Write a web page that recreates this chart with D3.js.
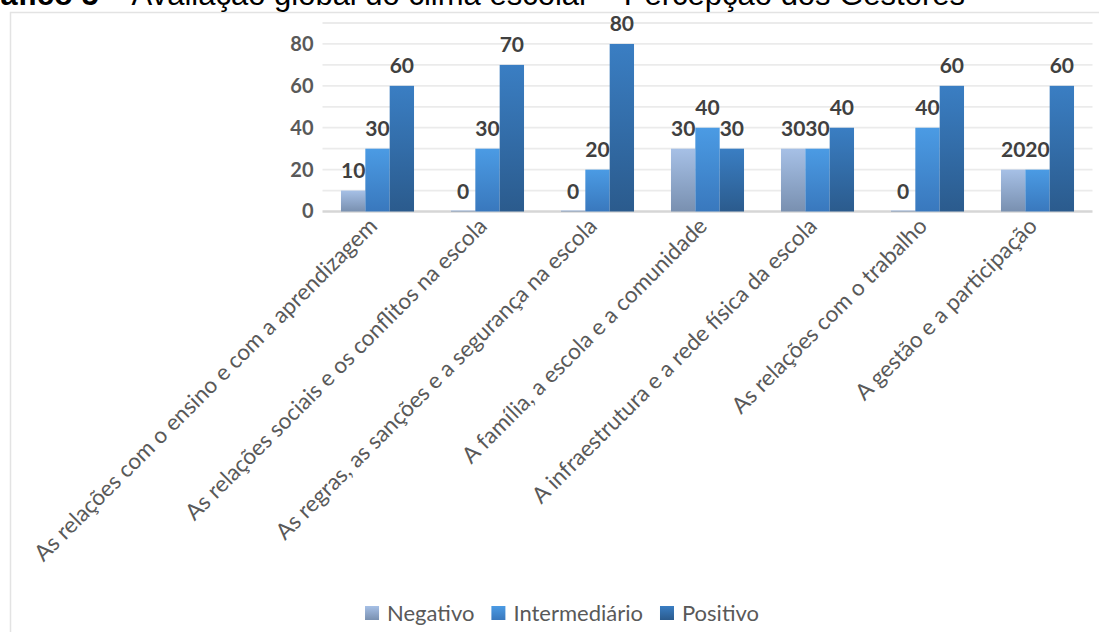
<!DOCTYPE html>
<html>
<head>
<meta charset="utf-8">
<script src="https://cdn.jsdelivr.net/npm/d3@7"></script>
<style>
  body { margin: 0; background: #fff; }
  svg { display: block; }
</style>
</head>
<body>
<svg id="chart" width="1099" height="632"></svg>
<script>
// categories and series
const categories = [
  "As relações com o ensino e com a aprendizagem",
  "As relações sociais e os conflitos na escola",
  "As regras, as sanções e a segurança na escola",
  "A família, a escola e a comunidade",
  "A infraestrutura e a rede física da escola",
  "As relações com o trabalho",
  "A gestão e a participação"
];
const seriesNames = ["Negativo", "Intermediário", "Positivo"];
const negativo = [10, 0, 0, 30, 30, 0, 20];
const intermediario = [30, 30, 20, 40, 30, 40, 20];
const positivo = [60, 70, 80, 30, 40, 60, 60];
const yTicks = [0, 20, 40, 60, 80];
const gridValues = [0, 10, 20, 30, 40, 50, 60, 70, 80, 90];

const values = [negativo, intermediario, positivo];
const gradients = [
  ["#a6c0e6", "#7990b0"],
  ["#4b9be4", "#3978bd"],
  ["#3a7ec3", "#2b5b8d"]
];

const svg = d3.select("#chart");
const font = "Lato, 'Open Sans', sans-serif";

// chart frame
svg.append("rect")
  .attr("x", 10.5).attr("y", 12.5)
  .attr("width", 1200).attr("height", 700)
  .attr("fill", "#fff").attr("stroke", "#e3e3e3").attr("stroke-width", 1.5);

// title (cut at top of image)
const title = svg.append("text")
  .attr("x", 965).attr("y", 5)
  .attr("text-anchor", "end")
  .attr("font-family", "'Liberation Sans', Arial, sans-serif")
  .attr("font-size", 31)
  .attr("fill", "#000");
title.append("tspan").attr("font-weight", "bold").text("Gráfico 5");
title.append("tspan").text(" – Avaliação global do clima escolar – Percepção dos Gestores");

const defs = svg.append("defs");
gradients.forEach((g, i) => {
  const lg = defs.append("linearGradient")
    .attr("id", "grad" + i)
    .attr("x1", 0).attr("y1", 0).attr("x2", 0).attr("y2", 1);
  lg.append("stop").attr("offset", "0%").attr("stop-color", g[0]);
  lg.append("stop").attr("offset", "100%").attr("stop-color", g[1]);
});

// scales
const x0 = d3.scaleBand()
  .domain(categories)
  .range([322.5, 1092.5])
  .paddingInner(0.336)
  .paddingOuter(0.168);

const x1 = d3.scaleBand()
  .domain(seriesNames)
  .range([0, x0.bandwidth()]);

const y = d3.scaleLinear().domain([0, 90]).range([211.5, 23]);

// gridlines
svg.append("g")
  .selectAll("line")
  .data(gridValues)
  .join("line")
  .attr("x1", 322.5).attr("x2", 1092.5)
  .attr("y1", d => y(d)).attr("y2", d => y(d))
  .attr("stroke", d => d === 0 ? "#d6d6d6" : "#ebebeb")
  .attr("stroke-width", d => d === 0 ? 2.5 : 1.8);

// y axis
const yAxis = d3.axisLeft(y).tickValues(yTicks).tickSize(0).tickPadding(9);
svg.append("g")
  .attr("transform", "translate(322.5,0)")
  .call(yAxis)
  .call(g => g.select(".domain").remove())
  .selectAll("text")
  .attr("font-family", font)
  .attr("font-size", 20)
  .attr("font-weight", "bold")
  .attr("fill", "#595959");

// bars
const groups = svg.append("g")
  .selectAll("g")
  .data(categories)
  .join("g")
  .attr("transform", d => `translate(${x0(d)},0)`);

groups.selectAll("rect")
  .data((d, ci) => seriesNames.map((s, si) => ({ s, si, v: values[si][ci] })))
  .join("rect")
  .attr("x", d => x1(d.s))
  .attr("width", x1.bandwidth())
  .attr("y", d => y(d.v) - (d.v === 0 ? 1 : 0))
  .attr("height", d => d.v === 0 ? 1 : y(0) - y(d.v))
  .attr("fill", d => `url(#grad${d.si})`);

groups.selectAll("text")
  .data((d, ci) => seriesNames.map((s, si) => ({ s, si, v: values[si][ci] })))
  .join("text")
  .attr("x", d => x1(d.s) + x1.bandwidth() / 2)
  .attr("y", d => y(d.v) - 13)
  .attr("text-anchor", "middle")
  .attr("font-family", font)
  .attr("font-size", 21)
  .attr("font-weight", "bold")
  .attr("fill", "#404040")
  .text(d => d.v);

// x axis labels, rotated
const xAxis = d3.axisBottom(x0).tickSize(0).tickPadding(0);
svg.append("g")
  .attr("transform", `translate(0,${y(0)})`)
  .call(xAxis)
  .call(g => g.select(".domain").remove())
  .selectAll("text")
  .attr("font-family", font)
  .attr("font-size", 22.5)
  .attr("fill", "#595959")
  .attr("text-anchor", "end")
  .attr("dy", 0)
  .attr("transform", "translate(1,16) rotate(-45)");

// legend
const legend = svg.append("g");
const legendItems = legend.selectAll("g")
  .data(seriesNames)
  .join("g");
legendItems.append("rect")
  .attr("width", 14).attr("height", 14)
  .attr("y", -7)
  .attr("fill", (d, i) => `url(#grad${i})`);
legendItems.append("text")
  .attr("x", 22)
  .attr("dy", "0.35em")
  .attr("font-family", font)
  .attr("font-size", 22)
  .attr("fill", "#595959")
  .text(d => d);
let lx = 0;
legendItems.each(function () {
  const w = this.getBBox().width;
  d3.select(this).attr("transform", `translate(${lx},0)`);
  lx += w + 17;
});
legend.attr("transform", `translate(${562 - (lx - 17) / 2},613)`);
</script>
</body>
</html>
